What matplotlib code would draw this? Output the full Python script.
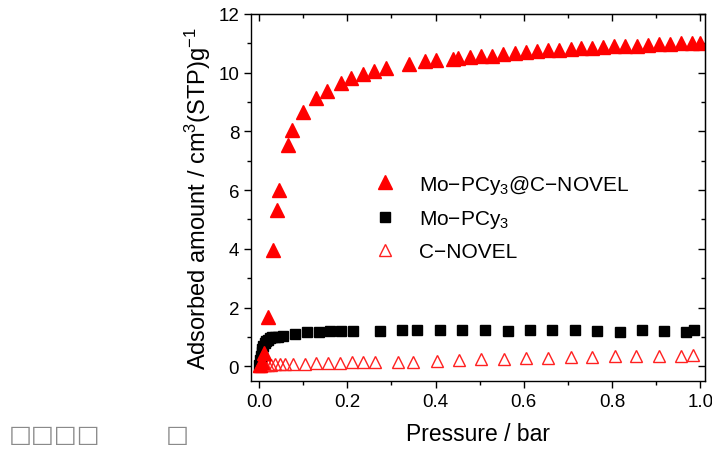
import matplotlib
matplotlib.use("Agg")
import matplotlib.pyplot as plt
from matplotlib.lines import Line2D

plt.rcParams['font.family'] = ['Liberation Sans', 'DejaVu Sans']
plt.rcParams['mathtext.default'] = 'regular'

# Mo-PCy3@C-NOVEL (filled red triangles)
p_comp = [0.002, 0.006, 0.012, 0.021, 0.031, 0.040, 0.046, 0.066, 0.074, 0.100, 0.129,
          0.155, 0.187, 0.208, 0.235, 0.260, 0.287, 0.340, 0.377, 0.402, 0.440, 0.451,
          0.477, 0.502, 0.528, 0.553, 0.579, 0.606, 0.630, 0.655, 0.679, 0.706, 0.730,
          0.755, 0.780, 0.805, 0.830, 0.856, 0.881, 0.906, 0.931, 0.956, 0.981, 0.998]
q_comp = [0.05, 0.15, 0.45, 1.68, 3.97, 5.32, 6.00, 7.55, 8.03, 8.65, 9.14,
          9.39, 9.65, 9.81, 9.96, 10.04, 10.15, 10.28, 10.38, 10.43, 10.46, 10.49,
          10.52, 10.55, 10.58, 10.62, 10.66, 10.69, 10.73, 10.77, 10.78, 10.81, 10.83,
          10.85, 10.88, 10.90, 10.91, 10.92, 10.93, 10.97, 10.99, 11.00, 11.02, 11.02]

# Mo-PCy3 (black squares)
p_mo = [0.001, 0.002, 0.004, 0.006, 0.008, 0.010, 0.013, 0.016, 0.020, 0.025, 0.030,
        0.036, 0.043, 0.055, 0.081, 0.108, 0.136, 0.161, 0.187, 0.213, 0.274, 0.324,
        0.358, 0.410, 0.461, 0.513, 0.563, 0.613, 0.664, 0.715, 0.766, 0.817, 0.867,
        0.917, 0.968, 0.986]
q_mo = [0.05, 0.20, 0.35, 0.50, 0.60, 0.70, 0.78, 0.85, 0.90, 0.95, 0.98,
        1.00, 1.01, 1.02, 1.11, 1.17, 1.17, 1.19, 1.19, 1.19, 1.19, 1.22,
        1.22, 1.22, 1.22, 1.22, 1.19, 1.22, 1.22, 1.25, 1.19, 1.17, 1.22,
        1.19, 1.16, 1.22]

# C-NOVEL (open red triangles)
p_c = [0.001, 0.004, 0.008, 0.013, 0.020, 0.028, 0.037, 0.047, 0.058, 0.078, 0.104,
       0.130, 0.157, 0.183, 0.210, 0.236, 0.263, 0.316, 0.350, 0.403, 0.453, 0.502,
       0.556, 0.604, 0.655, 0.706, 0.755, 0.806, 0.855, 0.906, 0.957, 0.983]
q_c = [0.00, 0.02, 0.03, 0.04, 0.05, 0.05, 0.06, 0.07, 0.07, 0.08, 0.09,
       0.10, 0.11, 0.12, 0.13, 0.14, 0.13, 0.14, 0.16, 0.19, 0.21, 0.24,
       0.26, 0.28, 0.29, 0.31, 0.32, 0.35, 0.36, 0.34, 0.36, 0.40]

labels = ['Mo\u2212PCy$_3$@C\u2212NOVEL', 'Mo\u2212PCy$_3$', 'C\u2212NOVEL']

fig = plt.figure(figsize=(7.12, 4.52), dpi=100)
ax = fig.add_axes([0.3525, 0.155, 0.6375, 0.812])

ax.plot(p_c, q_c, linestyle='none', marker='^', ms=9, mfc='none', mec='#ff2020', mew=1.0)
ax.plot(p_mo, q_mo, linestyle='none', marker='s', ms=7, color='black')
ax.plot(p_comp, q_comp, linestyle='none', marker='^', ms=10, color='#ff0000', mec='#ff0000')

ax.set_xlim(-0.018, 1.01)
ax.set_ylim(-0.5, 12)
ax.set_xticks([0.0, 0.2, 0.4, 0.6, 0.8, 1.0])
ax.set_xticks([0.1, 0.3, 0.5, 0.7, 0.9], minor=True)
ax.set_yticks(range(0, 13, 2))
ax.set_yticks(range(1, 12, 2), minor=True)
ax.set_xticklabels(['0.0', '0.2', '0.4', '0.6', '0.8', '1.0'])

ax.tick_params(which='both', direction='out', labelsize=13.5, width=1.0)
ax.tick_params(which='major', length=5)
ax.tick_params(which='minor', length=3)
# top/right mirror ticks point inward
axt = ax.secondary_xaxis('top')
axt.set_xticks([0.0, 0.2, 0.4, 0.6, 0.8, 1.0])
axt.set_xticks([0.1, 0.3, 0.5, 0.7, 0.9], minor=True)
axt.tick_params(which='both', direction='in', labeltop=False, width=1.0)
axt.tick_params(which='major', length=5)
axt.tick_params(which='minor', length=3)
axr = ax.secondary_yaxis('right')
axr.set_yticks(range(0, 13, 2))
axr.set_yticks(range(1, 12, 2), minor=True)
axr.tick_params(which='both', direction='in', labelright=False, width=1.0)
axr.tick_params(which='major', length=5)
axr.tick_params(which='minor', length=3)
for s in ax.spines.values():
    s.set_linewidth(1.0)

ax.set_xlabel('Pressure / bar', fontsize=16.5, labelpad=9)
ax.set_ylabel('Adsorbed amount / cm$^3$(STP)g$^{-1}$', fontsize=17, labelpad=4)

handles = [
    Line2D([], [], linestyle='none', marker='^', ms=10, color='#ff0000'),
    Line2D([], [], linestyle='none', marker='s', ms=7, color='black'),
    Line2D([], [], linestyle='none', marker='^', ms=9, mfc='none', mec='#ff2020', mew=1.0),
]
ax.legend(handles, labels, loc='upper left', bbox_to_anchor=(0.232, 0.59), frameon=False,
          fontsize=15, handletextpad=0.6, labelspacing=0.58, borderaxespad=0)

# unrendered caption glyphs in the lower-left corner
fig.text(0.012, 0.022, '\u25a1\u25a1\u25a1\u25a1', fontsize=17.5, color='#8a8a8a',
         family='DejaVu Sans')
fig.text(0.233, 0.022, '\u25a1', fontsize=17.5, color='#8a8a8a', family='DejaVu Sans')

fig.savefig('out.png', dpi=100)
